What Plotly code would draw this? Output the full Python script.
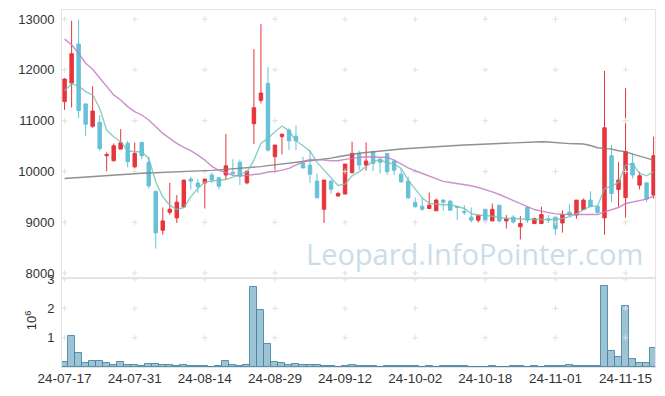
import plotly.graph_objects as go

dates = [
    "24-07-17", "24-07-18", "24-07-19", "24-07-22", "24-07-23", "24-07-24", "24-07-25", "24-07-26",
    "24-07-29", "24-07-30", "24-07-31", "24-08-01", "24-08-02", "24-08-05", "24-08-06", "24-08-07",
    "24-08-08", "24-08-09", "24-08-12", "24-08-13", "24-08-14", "24-08-16", "24-08-19", "24-08-20",
    "24-08-21", "24-08-22", "24-08-23", "24-08-26", "24-08-27", "24-08-28", "24-08-29", "24-08-30",
    "24-09-02", "24-09-03", "24-09-04", "24-09-05", "24-09-06", "24-09-09", "24-09-10", "24-09-11",
    "24-09-12", "24-09-13", "24-09-19", "24-09-20", "24-09-23", "24-09-24", "24-09-25", "24-09-26",
    "24-09-27", "24-09-30", "24-10-02", "24-10-04", "24-10-07", "24-10-08", "24-10-10", "24-10-11",
    "24-10-14", "24-10-15", "24-10-16", "24-10-17", "24-10-18", "24-10-21", "24-10-22", "24-10-23",
    "24-10-24", "24-10-25", "24-10-28", "24-10-29", "24-10-30", "24-10-31", "24-11-01", "24-11-04",
    "24-11-05", "24-11-06", "24-11-07", "24-11-08", "24-11-11", "24-11-12", "24-11-13", "24-11-14",
    "24-11-15", "24-11-18", "24-11-19", "24-11-20", "24-11-21",
]

open_ = [11375, 11740, 12510, 11330, 10890, 10970, 10310, 10210, 10440, 10555,
         10090, 10570, 10180, 9610, 8840, 9195, 9085, 9300, 9850, 9770,
         9775, 9930, 9875, 9930, 9985, 10180, 9775, 10940, 11400, 11735,
         10290, 10685, 10815, 10695, 10170, 10125, 9810, 9255, 9810, 9515,
         9555, 9975, 10355, 10125, 10390, 10245, 10355, 10205, 9945, 9810,
         9390, 9315, 9270, 9225, 9435, 9415, 9310, 9210, 9100, 9040,
         9255, 9025, 9335, 9025, 9100, 8910, 9290, 8975, 8975, 9065,
         9100, 8985, 9195, 9140, 9250, 9435, 9315, 9085, 10310, 9645,
         9485, 10160, 9730, 9775, 9535]
high = [11840, 12970, 12990, 11330, 11680, 11110, 10375, 10550, 10835, 10600,
        10570, 10590, 10290, 9610, 9290, 9775, 9535, 9830, 9895, 9850,
        9850, 9980, 9895, 10735, 10240, 10235, 10010, 12410, 12900, 12055,
        10520, 10740, 10850, 10910, 10290, 10420, 9960, 9830, 9830, 9600,
        10145, 10585, 10410, 10570, 10390, 10245, 10355, 10235, 10060, 9895,
        9485, 9485, 9585, 9465, 9455, 9445, 9310, 9335, 9290, 9140,
        9255, 9370, 9335, 9140, 9140, 9125, 9290, 9090, 9305, 9140,
        9100, 9235, 9355, 9435, 9465, 9610, 9315, 11980, 10520, 10180,
        11640, 10355, 9995, 9775, 10685]
low = [11210, 11260, 11050, 10700, 10860, 10410, 10005, 10200, 10440, 10080,
       10060, 10240, 9665, 8480, 8755, 9145, 8985, 9290, 9645, 9580,
       9270, 9775, 9650, 9830, 9930, 9730, 9745, 10540, 11340, 10390,
       9995, 10335, 10420, 10420, 10060, 9775, 9480, 8985, 9565, 9510,
       9550, 9960, 10025, 10015, 10005, 9960, 9930, 9930, 9775, 9455,
       9290, 9225, 9255, 9225, 9225, 9235, 9040, 9140, 8995, 8995,
       8995, 9025, 8995, 8875, 8975, 8660, 8985, 8960, 8960, 8985,
       8745, 8795, 9105, 9070, 9240, 9300, 9170, 8755, 9400, 9305,
       9090, 9860, 9645, 9400, 9465]
close = [11820, 12320, 11200, 10930, 11190, 10450, 10335, 10505, 10565, 10190,
         10355, 10310, 9715, 8790, 9025, 9255, 9395, 9830, 9810, 9700,
         9850, 9830, 9710, 10110, 9965, 9910, 10005, 11255, 11545, 10420,
         10520, 10735, 10605, 10605, 10070, 9945, 9480, 9830, 9650, 9565,
         10145, 10355, 10125, 10205, 10160, 10180, 9995, 10025, 9795, 9480,
         9305, 9255, 9335, 9435, 9395, 9235, 9290, 9195, 9040, 9140,
         9040, 9255, 9025, 9070, 9005, 8975, 9040, 9070, 9150, 9040,
         8870, 9150, 9140, 9435, 9435, 9305, 9195, 10860, 9565, 9830,
         10390, 9930, 9915, 9455, 10310]

volume = [170000, 1050000, 480000, 140000, 200000, 200000, 140000, 70000, 170000, 70000,
          70000, 30000, 100000, 100000, 70000, 70000, 30000, 70000, 30000, 30000,
          30000, 10000, 30000, 200000, 70000, 30000, 60000, 2720000, 1940000, 780000,
          170000, 140000, 70000, 100000, 70000, 70000, 70000, 30000, 30000, 10000,
          30000, 60000, 30000, 30000, 30000, 10000, 30000, 30000, 30000, 30000,
          30000, 10000, 30000, 10000, 30000, 30000, 30000, 30000, 10000, 10000,
          10000, 30000, 10000, 10000, 30000, 30000, 10000, 30000, 10000, 30000,
          30000, 30000, 60000, 30000, 30000, 30000, 30000, 2760000, 550000, 330000,
          2080000, 270000, 140000, 140000, 650000]

ma5 = [11592, 11724, 11684, 11573, 11507, 11244, 10816, 10684, 10586, 10408,
       10388, 10388, 10257, 9796, 9500, 9335, 9250, 9289, 9500, 9664,
       9796, 9809, 9820, 9840, 9888, 9947, 9986, 10224, 10553, 10651,
       10783, 10895, 10803, 10605, 10507, 10401, 10178, 10026, 9895, 9724,
       9750, 9914, 9993, 10092, 10204, 10224, 10171, 10145, 10059, 9829,
       9645, 9480, 9368, 9355, 9345, 9349, 9303, 9270, 9171, 9138,
       9138, 9118, 9092, 9072, 9072, 9059, 9059, 9052, 9052, 9052,
       9052, 9072, 9105, 9171, 9250, 9316, 9316, 9664, 9710, 9783,
       10125, 10158, 9961, 9914, 9993]
ma20 = [12606, 12494, 12329, 12132, 12013, 11849, 11684, 11507, 11408, 11277,
        11178, 11112, 11013, 10882, 10750, 10651, 10553, 10474, 10408, 10322,
        10224, 10100, 10020, 9980, 9925, 9908, 9920, 9935, 9955, 9990,
        10000, 10026, 10059, 10125, 10191, 10237, 10237, 10224, 10211, 10211,
        10237, 10263, 10276, 10290, 10290, 10290, 10276, 10224, 10145, 10072,
        10013, 9961, 9895, 9842, 9805, 9783, 9763, 9743, 9717, 9684,
        9645, 9599, 9546, 9487, 9434, 9368, 9303, 9250, 9217, 9184,
        9164, 9158, 9151, 9151, 9151, 9151, 9151, 9204, 9250, 9289,
        9368, 9401, 9434, 9454, 9513]
ma_long = [9862, 9872, 9882, 9892, 9903, 9915, 9924, 9933, 9942, 9951,
           9960, 9965, 9970, 9975, 9980, 9985, 9989, 9993, 9997, 10000,
           10010, 10020, 10030, 10040, 10049, 10057, 10066, 10075, 10095, 10114,
           10133, 10152, 10171, 10184, 10197, 10211, 10224, 10237, 10263, 10289,
           10316, 10342, 10358, 10374, 10390, 10405, 10421, 10432, 10442, 10453,
           10463, 10474, 10482, 10490, 10499, 10507, 10514, 10520, 10527, 10533,
           10540, 10547, 10554, 10560, 10566, 10572, 10578, 10584, 10586, 10580,
           10566, 10553, 10548, 10544, 10540, 10510, 10467, 10455, 10440, 10408,
           10390, 10342, 10300, 10262, 10224]

price_ticks = [8000, 9000, 10000, 11000, 12000, 13000]
vol_ticks = [1000000, 2000000, 3000000]
vol_tick_text = ["1", "2", "3"]
x_ticks = dates[::10]

RED = "#e8343b"
BLUE = "#67c1d8"
FRAME = "#e4e4e4"
CROSS = "#e0e0e0"
FONT = "Liberation Sans, Arial, sans-serif"

fig = go.Figure()

fig.add_trace(go.Candlestick(
    x=dates, open=open_, high=high, low=low, close=close,
    increasing=dict(line=dict(color=RED, width=1), fillcolor=RED),
    decreasing=dict(line=dict(color=BLUE, width=1), fillcolor=BLUE),
    whiskerwidth=0, xaxis="x", yaxis="y", showlegend=False, hoverinfo="skip",
))

# grid crosses (price panel)
cx, cy = [], []
for t in x_ticks:
    for p in price_ticks:
        cx.append(t)
        cy.append(p)
fig.add_trace(go.Scatter(
    x=cx, y=cy, mode="markers", xaxis="x", yaxis="y",
    marker=dict(symbol="cross-thin", size=4, line=dict(color=CROSS, width=1)),
    hoverinfo="skip", showlegend=False,
))

fig.add_trace(go.Scatter(x=dates, y=ma_long, mode="lines", xaxis="x", yaxis="y",
                         line=dict(color="rgba(125,125,125,0.85)", width=1.4),
                         hoverinfo="skip", showlegend=False))
fig.add_trace(go.Scatter(x=dates, y=ma20, mode="lines", xaxis="x", yaxis="y",
                         line=dict(color="rgba(195,125,195,0.85)", width=1.4),
                         hoverinfo="skip", showlegend=False))
fig.add_trace(go.Scatter(x=dates, y=ma5, mode="lines", xaxis="x", yaxis="y",
                         line=dict(color="rgba(110,195,180,0.8)", width=1.4),
                         hoverinfo="skip", showlegend=False))

fig.add_trace(go.Bar(
    x=dates, y=volume, xaxis="x2", yaxis="y2",
    marker=dict(color="rgba(130,178,202,0.78)", line=dict(color="rgba(70,130,160,0.85)", width=1)),
    hoverinfo="skip", showlegend=False,
))

# grid crosses (volume panel)
vx, vy = [], []
for t in x_ticks:
    for v in vol_ticks:
        vx.append(t)
        vy.append(v)
fig.add_trace(go.Scatter(
    x=vx, y=vy, mode="markers", xaxis="x2", yaxis="y2",
    marker=dict(symbol="cross-thin", size=4, line=dict(color=CROSS, width=1)),
    hoverinfo="skip", showlegend=False,
))

xrange = [-0.37, 84.2]
axis_font = dict(family=FONT, size=13, color="#333333")
x_font = dict(family=FONT, size=13.5, color="#333333")

# the page body adds an 8px offset; figure size/margins compensate for it
fig.update_layout(
    width=657, height=388,
    margin=dict(l=54, r=10, t=2, b=29, autoexpand=False),
    plot_bgcolor="white", paper_bgcolor="white",
    showlegend=False, bargap=0, boxgap=0.3,
    font=dict(family=FONT, size=13, color="#333333"),
    xaxis=dict(type="category", domain=[0, 1], anchor="y", range=xrange,
               categoryorder="array", categoryarray=dates,
               showticklabels=False, showgrid=False, zeroline=False,
               showline=True, linecolor=FRAME, linewidth=1, mirror=True,
               rangeslider=dict(visible=False), ticks="", automargin=False),
    yaxis=dict(domain=[0.252, 1], anchor="x", range=[7920, 13180],
               tickvals=price_ticks, ticktext=[str(p) for p in price_ticks],
               showgrid=False, zeroline=False, showline=True, linecolor=FRAME,
               linewidth=1, mirror=True, ticks="outside", ticklen=4,
               tickcolor="rgba(0,0,0,0)", tickfont=axis_font, automargin=False),
    xaxis2=dict(type="category", domain=[0, 1], anchor="y2", range=xrange,
                categoryorder="array", categoryarray=dates,
                tickvals=x_ticks, ticktext=x_ticks, tickangle=0,
                showgrid=False, zeroline=False, showline=True, linecolor=FRAME,
                linewidth=1, mirror=True, ticks="", ticklabelstandoff=-1,
                tickfont=x_font, automargin=False),
    yaxis2=dict(domain=[0, 0.2465], anchor="x2", range=[0, 3000000],
                tickvals=vol_ticks, ticktext=vol_tick_text,
                showgrid=False, zeroline=False, showline=True, linecolor=FRAME,
                linewidth=1, mirror=True, ticks="outside", ticklen=4,
                tickcolor="rgba(0,0,0,0)", tickfont=axis_font, automargin=False),
    annotations=[
        dict(text="Leopard.InfoPointer.com", xref="paper", yref="paper",
             x=0.695, y=0.319, xanchor="center", yanchor="middle", showarrow=False,
             font=dict(family="Open Sans, sans-serif", size=29, color="#cbdde8")),
        dict(text="10<sup>6</sup>", xref="paper", yref="paper",
             x=-0.053, y=0.13, xanchor="center", yanchor="middle", showarrow=False,
             textangle=-90, font=dict(family=FONT, size=13, color="#333333")),
    ],
)

fig.write_html("out.html")
